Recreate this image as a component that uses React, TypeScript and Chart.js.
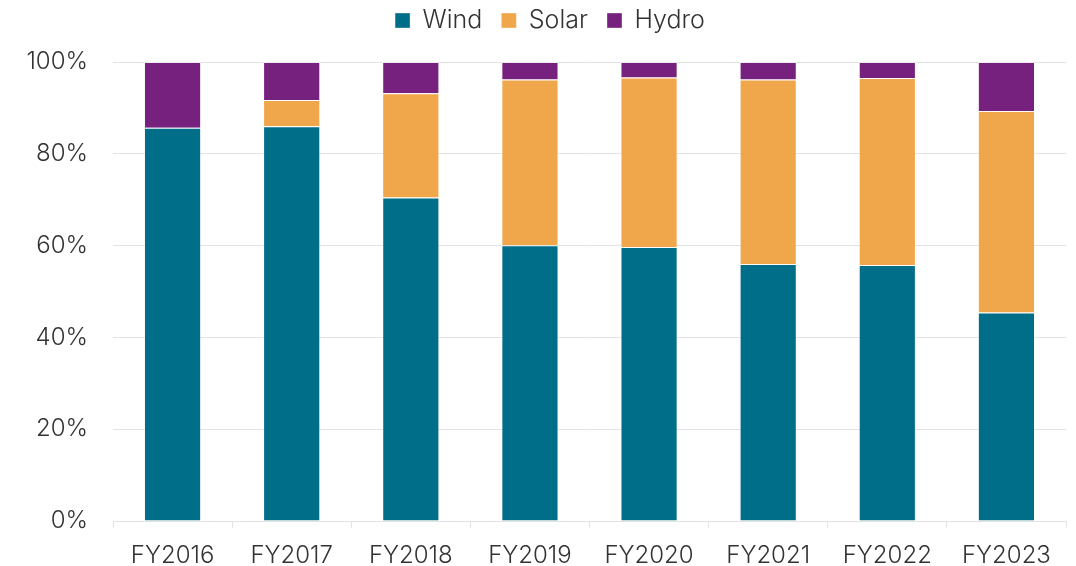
import React, { useEffect, useRef } from "react";
import { Chart, registerables } from "chart.js";

Chart.register(...registerables);

const categories = ["FY2016", "FY2017", "FY2018", "FY2019", "FY2020", "FY2021", "FY2022", "FY2023"];
const windShare = [85.7, 86.0, 70.5, 60.1, 59.7, 56.0, 55.8, 45.4];
const solarShare = [0, 5.7, 22.7, 36.1, 36.9, 40.2, 40.7, 43.9];
const hydroShare = [14.3, 8.3, 6.8, 3.8, 3.4, 3.8, 3.5, 10.7];
const yTicks = [0, 20, 40, 60, 80, 100];

const FONT = "Inter, 'Noto Sans', sans-serif";
const TEXT = "#333333";
const GRID = "#e3e3e3";

const legendShift = {
  id: "legendShift",
  afterLayout(chart: any) {
    if (chart.legend) {
      chart.legend.left += 17;
      chart.legend.right += 17;
    }
  },
};

export default function App() {
  const ref = useRef<HTMLCanvasElement | null>(null);

  useEffect(() => {
    if (!ref.current) return;
    const chart = new Chart(ref.current, {
      type: "bar",
      data: {
        labels: categories,
        datasets: [
          { label: "Wind", data: windShare, backgroundColor: "#006E89", borderColor: "rgba(255,255,255,0.35)", borderWidth: 1 },
          { label: "Solar", data: solarShare, backgroundColor: "#F0A64A", borderColor: "rgba(255,255,255,0.35)", borderWidth: 1 },
          { label: "Hydro", data: hydroShare, backgroundColor: "#77217E", borderColor: "rgba(255,255,255,0.35)", borderWidth: 1 },
        ],
      },
      options: {
        responsive: false,
        animation: false,
        devicePixelRatio: 1,
        layout: { padding: { top: -11, left: 0, right: 10, bottom: 0 } },
        datasets: { bar: { categoryPercentage: 1, barPercentage: 0.48 } },
        plugins: {
          legend: {
            position: "top",
            weight: 1600,
            labels: {
              boxWidth: 15,
              boxHeight: 15,
              padding: 19,
              color: TEXT,
              font: { family: FONT, size: 25, weight: "300" },
            },
          } as any,
          subtitle: {
            display: true,
            text: "",
            weight: 500,
            font: { size: 1, lineHeight: 1 },
            padding: { top: 0, bottom: 18 },
          } as any,
          tooltip: { enabled: false },
        },
        scales: {
          x: {
            stacked: true,
            grid: { drawOnChartArea: false, drawTicks: true, tickLength: 7, color: GRID, offset: true },
            border: { display: true, color: GRID, width: 1 },
            ticks: { color: TEXT, padding: 13, font: { family: FONT, size: 24, weight: "300" }, maxRotation: 0 },
            afterFit: (s: any) => { s.height = 45; },
          },
          y: {
            stacked: true,
            min: 0,
            max: 100,
            grid: { color: GRID, drawTicks: false },
            border: { display: false },
            afterBuildTicks: (s: any) => { s.ticks = yTicks.map((v) => ({ value: v })); },
            ticks: {
              color: TEXT,
              padding: 25,
              font: { family: FONT, size: 24, weight: "300" },
              callback: (v: any) => v + "%",
            },
            afterFit: (s: any) => { s.width = 113; },
          },
        },
      },
      plugins: [legendShift],
    });
    return () => chart.destroy();
  }, []);

  return (
    <canvas
      ref={ref}
      width={1076}
      height={566}
      style={{ position: "absolute", left: 0, top: 0, width: 1076, height: 566, background: "#fff" }}
    />
  );
}
